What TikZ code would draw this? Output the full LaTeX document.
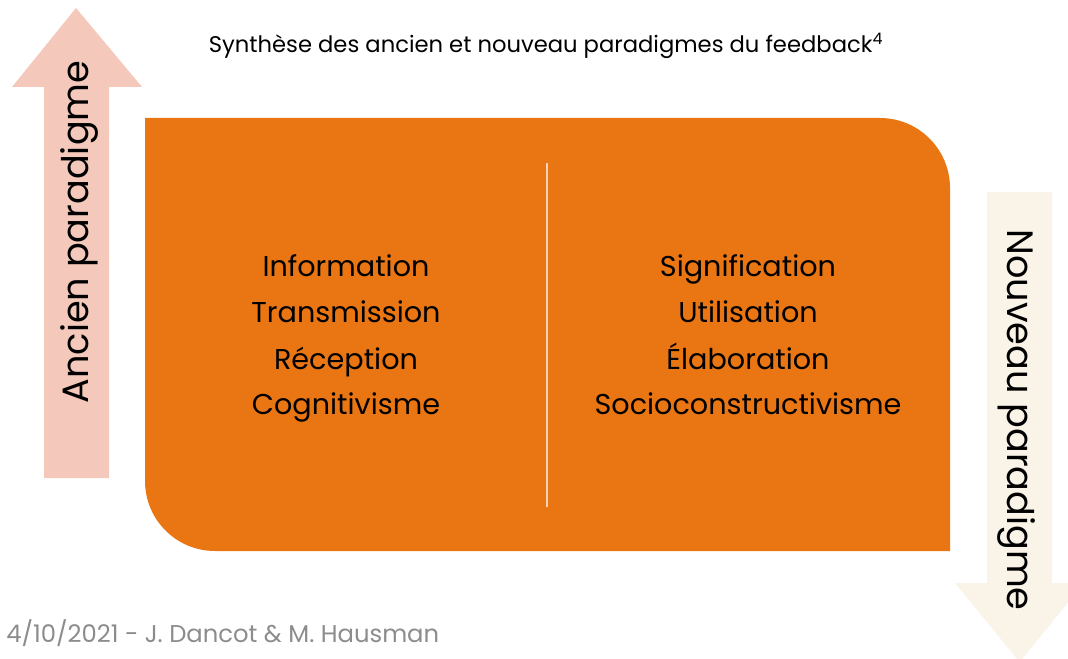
\documentclass[tikz,border=0pt]{standalone}
\usepackage{fontspec}
\setmainfont{Poppins}
\usepackage{xcolor}
\usetikzlibrary{positioning}

\definecolor{boxorange}{HTML}{E97612}
\definecolor{oldpink}{HTML}{F4C8BA}
\definecolor{newcream}{HTML}{FAF3E8}
\definecolor{footgray}{HTML}{8C8C8C}
\definecolor{splitline}{HTML}{F6D2B8}

\tikzset{
  item/.style={anchor=base, inner sep=0.75pt, font=\fontsize{21.5}{24}\selectfont},
  sidelabel/.style={anchor=base, inner sep=0.75pt, font=\fontsize{27.5}{30}\selectfont},
}

\begin{document}
\begin{tikzpicture}[x=0.75pt,y=0.75pt,yscale=-1,xscale=1]
\useasboundingbox (0,0) rectangle (1068,659);
\clip (0,0) rectangle (1068,659);

%Up Arrow [ancien]
\fill [oldpink] (44,478) -- (44,87) -- (12,87) -- (76,8) -- (142,87) -- (109,87) -- (109,478) -- cycle ;
%Down Arrow [nouveau]
\fill [newcream] (987,192) -- (1052,192) -- (1052,583) -- (1084,583) -- (1019.5,662) -- (955,583) -- (987,583) -- cycle ;

%Rounded Box
\fill [boxorange] (145,118) -- (880,118) .. controls (918.66,118) and (950,149.34) .. (950,188) -- (950,551) -- (215,551) .. controls (176.34,551) and (145,519.66) .. (145,481) -- cycle ;

% Text Node
\node (title) [anchor=base, inner sep=0.75pt, font=\fontsize{17}{19}\selectfont] at (546,53) {Synthèse des ancien et nouveau paradigmes du feedback\textsuperscript{4}};
% Text Node
\node (footer) [anchor=base west, inner sep=0.75pt, text=footgray, font=\fontsize{18.2}{20}\selectfont] at (5,642) {4/10/2021 - J. Dancot \& M. Hausman};

% Text Node
\node (ancien) [sidelabel, rotate=90] at (88,232) {Ancien paradigme};
% Text Node
\node (nouveau) [sidelabel, rotate=-90] at (1007,420) {Nouveau paradigme};

%Left column
\node (info) [item] at (346,277) {Information};
\node (trans) [item] at (346,323) {Transmission};
\node (recep) [item] at (346,369) {Réception};
\node (cogni) [item] at (346,415) {Cognitivisme};

%Right column
\node (signi) [item] at (748,277) {Signification};
\node (utili) [item] at (748,323) {Utilisation};
\node (elabo) [item] at (748,369) {Élaboration};
\node (socio) [item] at (748,415) {Socioconstructivisme};

%Split line
\coordinate (splittop) at (547,163);
\coordinate (splitbot) at (547,507);
\draw [splitline, line width=1pt] (splittop) -- (splitbot) ;

\end{tikzpicture}
\end{document}
